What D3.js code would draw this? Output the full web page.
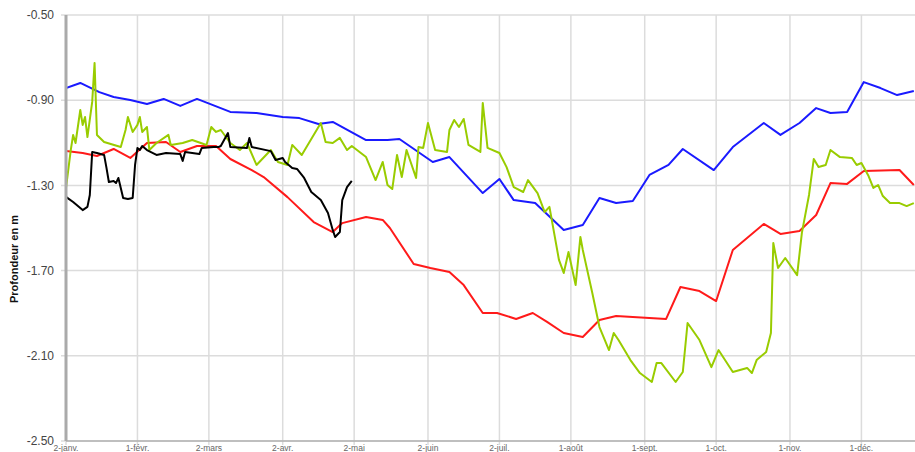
<!DOCTYPE html>
<html><head><meta charset="utf-8">
<script src="https://cdn.jsdelivr.net/npm/d3@7"></script>
<style>html,body{margin:0;padding:0;background:#fff;overflow:hidden}svg{display:block}</style>
</head><body>
<svg id="c" width="915" height="452"></svg>
<script>
// ---- DATA (day of year 2024, depth in m) ----
const year = 2024;
const yTicks = [-0.50, -0.90, -1.30, -1.70, -2.10, -2.50];
const xTickDays = [2, 32, 62, 93, 123, 154, 184, 214, 245, 275, 306, 336];
const xTickLabels = ["2-janv.", "1-févr.", "2-mars", "2-avr.", "2-mai", "2-juin", "2-juil.", "1-août", "1-sept.", "1-oct.", "1-nov.", "1-déc."];
const yTitle = "Profondeur en m";

const blueSeries = [[2,-0.843],[8,-0.819],[16,-0.862],[22,-0.885],[29,-0.899],[36,-0.918],[43,-0.894],[50,-0.927],[57,-0.894],[71,-0.955],[82,-0.960],[93,-0.979],[100,-0.984],[108,-1.012],[114,-1.002],[128,-1.087],[137,-1.087],[142,-1.082],[156,-1.190],[163,-1.167],[177,-1.336],[184,-1.270],[190,-1.369],[199,-1.383],[211,-1.509],[219,-1.486],[226,-1.359],[233,-1.383],[240,-1.373],[247,-1.251],[255,-1.204],[261,-1.129],[274,-1.228],[282,-1.120],[295,-1.007],[302,-1.063],[310,-1.007],[317,-0.937],[323,-0.960],[330,-0.955],[337,-0.815],[344,-0.843],[351,-0.876],[358,-0.857]];

const redSeries = [[2,-1.139],[9,-1.148],[15,-1.162],[22,-1.129],[29,-1.171],[36,-1.101],[44,-1.096],[50,-1.143],[57,-1.115],[65,-1.115],[71,-1.176],[80,-1.228],[85,-1.261],[95,-1.355],[106,-1.472],[114,-1.519],[118,-1.477],[128,-1.448],[135,-1.462],[138,-1.500],[148,-1.669],[155,-1.688],[163,-1.707],[169,-1.768],[177,-1.899],[183,-1.899],[191,-1.927],[198,-1.899],[204,-1.941],[211,-1.993],[219,-2.012],[226,-1.932],[233,-1.913],[254,-1.927],[260,-1.777],[268,-1.796],[275,-1.843],[282,-1.603],[295,-1.481],[302,-1.528],[310,-1.514],[317,-1.439],[323,-1.289],[330,-1.293],[337,-1.232],[352,-1.228],[358,-1.298]];

const blackSeries = [[2,-1.354],[5,-1.378],[9,-1.416],[11,-1.401],[12,-1.345],[13,-1.143],[15,-1.148],[18,-1.157],[19,-1.218],[20,-1.284],[22,-1.279],[23,-1.289],[24,-1.265],[26,-1.359],[28,-1.364],[30,-1.359],[31,-1.204],[32,-1.124],[33,-1.134],[34,-1.115],[36,-1.134],[40,-1.157],[44,-1.148],[50,-1.153],[51,-1.185],[52,-1.143],[55,-1.148],[58,-1.153],[59,-1.124],[64,-1.120],[66,-1.120],[67,-1.115],[70,-1.054],[71,-1.120],[78,-1.124],[79,-1.077],[80,-1.120],[88,-1.139],[90,-1.181],[93,-1.171],[94,-1.190],[97,-1.218],[99,-1.223],[102,-1.265],[105,-1.331],[109,-1.369],[112,-1.430],[114,-1.509],[115,-1.542],[117,-1.519],[118,-1.369],[120,-1.308],[122,-1.279]];

const greenSeries = [[2,-1.312],[4,-1.134],[5,-1.063],[6,-1.101],[8,-0.946],[9,-1.016],[10,-0.979],[11,-1.073],[13,-0.908],[14,-0.725],[15,-1.063],[18,-1.096],[25,-1.120],[27,-1.040],[28,-0.979],[30,-1.049],[32,-1.016],[33,-0.979],[34,-1.049],[36,-1.026],[37,-1.134],[40,-1.101],[45,-1.063],[46,-1.110],[51,-1.101],[55,-1.087],[61,-1.110],[63,-1.026],[65,-1.049],[67,-1.040],[71,-1.101],[75,-1.134],[78,-1.101],[82,-1.204],[88,-1.134],[91,-1.190],[95,-1.204],[97,-1.110],[101,-1.157],[109,-1.007],[111,-1.096],[114,-1.101],[117,-1.077],[120,-1.134],[122,-1.115],[128,-1.167],[132,-1.275],[135,-1.190],[137,-1.298],[139,-1.317],[141,-1.157],[143,-1.261],[145,-1.134],[149,-1.265],[150,-1.120],[152,-1.124],[154,-1.007],[157,-1.134],[162,-1.143],[163,-1.040],[165,-0.993],[167,-1.026],[169,-0.988],[171,-1.110],[176,-1.143],[177,-0.913],[179,-1.124],[184,-1.148],[187,-1.214],[190,-1.308],[194,-1.331],[196,-1.275],[200,-1.336],[203,-1.425],[205,-1.401],[209,-1.650],[211,-1.711],[213,-1.613],[216,-1.768],[218,-1.542],[219,-1.603],[223,-1.805],[226,-1.965],[230,-2.073],[232,-1.993],[234,-2.026],[239,-2.120],[243,-2.181],[248,-2.223],[250,-2.134],[252,-2.134],[258,-2.223],[261,-2.176],[263,-1.946],[268,-2.026],[273,-2.153],[276,-2.073],[282,-2.176],[288,-2.157],[290,-2.181],[292,-2.120],[296,-2.082],[298,-1.993],[299,-1.570],[301,-1.688],[304,-1.641],[309,-1.721],[311,-1.523],[314,-1.345],[316,-1.176],[318,-1.214],[321,-1.204],[323,-1.134],[327,-1.167],[332,-1.171],[334,-1.204],[336,-1.195],[339,-1.256],[341,-1.312],[343,-1.298],[345,-1.350],[348,-1.383],[352,-1.383],[355,-1.397],[358,-1.383]];

const seriesList = [
  {data: redSeries, color: "#ff1a1a"},
  {data: blueSeries, color: "#1a1aff"},
  {data: greenSeries, color: "#99cc00"},
  {data: blackSeries, color: "#000000"}
];

// ---- CHART ----
const doyDate = d => d3.timeDay.offset(new Date(year, 0, 1), d - 1);
const svg = d3.select("#c");
const mLeft = 66, mRight = 915, mTop = 15, mBottom = 441;

const x = d3.scaleTime()
  .domain([doyDate(2), new Date(year, 11, 23, 12)])
  .range([mLeft, mRight]);
const y = d3.scaleLinear().domain([-2.5, -0.5]).range([mBottom, mTop]);

// horizontal grid
svg.append("g").selectAll("line").data(yTicks).join("line")
  .attr("x1", mLeft - 5).attr("x2", mRight)
  .attr("y1", d => y(d)).attr("y2", d => y(d))
  .attr("stroke", "#dcdcdc").attr("stroke-width", 1.5);

// vertical grid
svg.append("g").selectAll("line").data(xTickDays).join("line")
  .attr("x1", d => x(doyDate(d))).attr("x2", d => x(doyDate(d)))
  .attr("y1", mTop).attr("y2", mBottom + 4)
  .attr("stroke", "#dcdcdc").attr("stroke-width", 1.5);

// y axis labels
svg.append("g").selectAll("text").data(yTicks).join("text")
  .attr("x", 54).attr("y", d => y(d))
  .attr("dy", "0.35em").attr("text-anchor", "end")
  .attr("font-family", "Liberation Sans, Arial, sans-serif")
  .attr("font-size", 12).attr("fill", "#444")
  .text(d => d.toFixed(2));

// bottom axis line
svg.append("line").attr("x1", mLeft).attr("x2", mRight)
  .attr("y1", mBottom).attr("y2", mBottom)
  .attr("stroke", "#999").attr("stroke-width", 1);

// x labels
svg.append("g").selectAll("text").data(xTickDays).join("text")
  .attr("x", d => x(doyDate(d))).attr("y", 451)
  .attr("text-anchor", "middle")
  .attr("font-family", "Liberation Sans, Arial, sans-serif")
  .attr("font-size", 8.5).attr("fill", "#666")
  .text((d, i) => xTickLabels[i]);

// y title
svg.append("text")
  .attr("transform", "translate(18,259) rotate(-90)")
  .attr("text-anchor", "middle")
  .attr("font-family", "Liberation Sans, Arial, sans-serif")
  .attr("font-size", 11).attr("font-weight", "bold").attr("fill", "#111")
  .text(yTitle);

// lines
svg.append("clipPath").attr("id", "clip").append("rect")
  .attr("x", mLeft).attr("y", mTop - 5).attr("width", mRight - mLeft).attr("height", mBottom - mTop + 5);
const line = d3.line().x(d => x(doyDate(d[0]))).y(d => y(d[1]));
svg.append("g").attr("clip-path", "url(#clip)").selectAll("path").data(seriesList).join("path")
  .attr("d", s => line(s.data))
  .attr("fill", "none").attr("stroke", s => s.color)
  .attr("stroke-width", 2).attr("stroke-linejoin", "round");

// left axis bar
svg.append("line").attr("x1", mLeft).attr("x2", mLeft)
  .attr("y1", mTop).attr("y2", mBottom)
  .attr("stroke", "#aaa").attr("stroke-width", 3);
</script>
</body></html>
